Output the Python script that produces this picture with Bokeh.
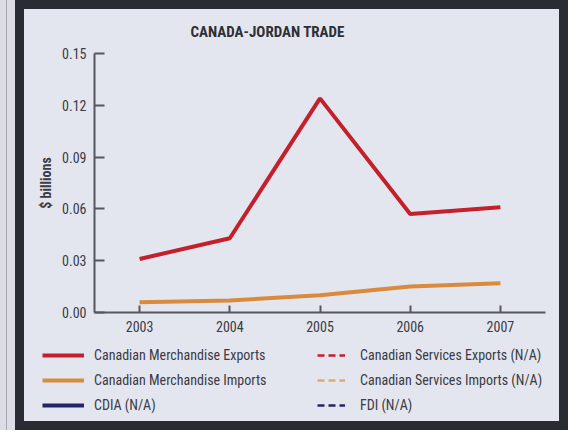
from bokeh.plotting import figure
from bokeh.layouts import column
from bokeh.models import (ColumnDataSource, Legend, LegendItem, FixedTicker, Range1d)
from bokeh.embed import file_html
from bokeh.resources import INLINE

NA = float("nan")

# ---- data ----
years = [2003, 2004, 2005, 2006, 2007]
merch_exports = [0.031, 0.043, 0.124, 0.057, 0.061]
merch_imports = [0.006, 0.007, 0.010, 0.015, 0.017]
cdia = [NA, NA, NA, NA, NA]              # N/A
services_exports = [NA, NA, NA, NA, NA]  # N/A
services_imports = [NA, NA, NA, NA, NA]  # N/A
fdi = [NA, NA, NA, NA, NA]               # N/A
y_ticks = [0.0, 0.03, 0.06, 0.09, 0.12, 0.15]
y_tick_labels = ["0.00", "0.03", "0.06", "0.09", "0.12", "0.15"]
x_tick_labels = ["2003", "2004", "2005", "2006", "2007"]

legend_left = ["Canadian Merchandise Exports", "Canadian Merchandise Imports", "CDIA (N/A)"]
legend_right = ["Canadian Services Exports (N/A)", "Canadian Services Imports (N/A)", "FDI (N/A)"]

FONT = "Roboto Condensed"
TEXT = "#3a3b44"
RED = "#c3202c"
ORANGE = "#d98a3c"
NAVY = "#22246a"
PANEL = "#e4e6ef"
PAGE = "#dcdde4"
FRAME = "#2a2c34"

# ---- layout geometry (pixels inside the framed panel) ----
W, H = 535, 412
FL, FR, FT, FB = 10, 10, 36, 4            # plot-frame borders
AX_X0, AX_X1 = 70, 521                    # where x = 2002.5 .. 2007.5 fall
AX_Y0, AX_Y1 = 303, 44                    # where y = 0 .. 0.15 fall
x_lo, x_hi = years[0] - 0.5, years[-1] + 0.5
y_lo, y_hi = y_ticks[0], y_ticks[-1]
ppx = (AX_X1 - AX_X0) / (x_hi - x_lo)
ppy = (AX_Y0 - AX_Y1) / (y_hi - y_lo)
xr = Range1d(x_lo - (AX_X0 - FL) / ppx, x_hi + ((W - FR) - AX_X1) / ppx)
yr = Range1d(y_lo - ((H - FB) - AX_Y0) / ppy, y_hi + (AX_Y1 - FT) / ppy)

p = figure(width=W, height=H, x_range=xr, y_range=yr,
           output_backend="svg", toolbar_location=None,
           min_border_left=FL, min_border_right=FR, min_border_top=FT,
           min_border_bottom=FB)
p.border_fill_color = PANEL
p.background_fill_color = PANEL
p.outline_line_color = None
p.xgrid.visible = False
p.ygrid.visible = False

src = ColumnDataSource(dict(year=years, exp=merch_exports, imp=merch_imports,
                            cdia=cdia, sexp=services_exports, simp=services_imports,
                            fdi=fdi))
r_exp = p.line("year", "exp", source=src, line_color=RED, line_width=4)
r_imp = p.line("year", "imp", source=src, line_color=ORANGE, line_width=4)
r_cdia = p.line("year", "cdia", source=src, line_color=NAVY, line_width=4)
r_sexp = p.line("year", "sexp", source=src, line_color=RED, line_width=2.5, line_dash="7 4")
r_simp = p.line("year", "simp", source=src, line_color="#e2a96a", line_width=2.5, line_dash="7 4")
r_fdi = p.line("year", "fdi", source=src, line_color=NAVY, line_width=2.5, line_dash="7 4")

for ax in (p.xaxis[0], p.yaxis[0]):
    ax.axis_line_color = "#55565e"
    ax.axis_line_width = 2
    ax.major_tick_line_color = "#55565e"
    ax.major_tick_line_width = 2
    ax.major_tick_out = 0
    ax.minor_tick_line_color = None
    ax.major_label_text_font = FONT
    ax.major_label_text_font_size = "14px"
    ax.major_label_text_color = TEXT

p.yaxis.fixed_location = x_lo
p.yaxis.bounds = (y_lo, y_hi)
p.yaxis.ticker = FixedTicker(ticks=y_ticks)
p.yaxis.major_label_overrides = {t: l for t, l in zip(y_ticks, y_tick_labels)}
p.yaxis.major_tick_in = 10
p.yaxis.major_label_standoff = 8
p.yaxis.axis_label = "$ billions"
p.yaxis.axis_label_text_font = FONT
p.yaxis.axis_label_text_font_style = "bold"
p.yaxis.axis_label_text_font_size = "14px"
p.yaxis.axis_label_text_color = TEXT
p.yaxis.axis_label_standoff = 5

p.xaxis.fixed_location = y_lo
p.xaxis.bounds = (x_lo, x_hi)
p.xaxis.ticker = FixedTicker(ticks=years)
p.xaxis.major_label_overrides = {y: l for y, l in zip(years, x_tick_labels)}
p.xaxis.major_tick_in = 7
p.xaxis.major_label_standoff = 8

p.title.text = "CANADA-JORDAN TRADE"
p.title.text_font = FONT
p.title.text_font_size = "15px"
p.title.text_font_style = "bold"
p.title.text_color = "#2e2f37"
p.title.align = "left"
p.title.offset = 156


def make_legend(labels, renderers, loc, glyph_w, standoff):
    return Legend(items=[LegendItem(label=l, renderers=[r]) for l, r in zip(labels, renderers)],
                  location=loc, orientation="vertical", padding=0, margin=0,
                  border_line_color=None, background_fill_alpha=0,
                  glyph_width=glyph_w, glyph_height=22, label_height=22, spacing=3,
                  label_standoff=standoff, label_text_font=FONT,
                  label_text_font_size="14px", label_text_color=TEXT)


p.add_layout(make_legend(legend_left, [r_exp, r_imp, r_cdia], (8, 1), 42, 10))
p.add_layout(make_legend(legend_right, [r_sexp, r_simp, r_fdi], (283, 1), 28, 15))

inner = column(p, styles={"border": f"9px solid {FRAME}", "background-color": PANEL})
outer = column(inner, styles={
    "background-color": PAGE, "padding-left": "15px",
    "background-image": f"linear-gradient(to right, {PAGE} 6px, #a9aab2 6px, #a9aab2 7px, {PAGE} 7px)"})

open("out.html", "w").write(file_html(outer, INLINE))
